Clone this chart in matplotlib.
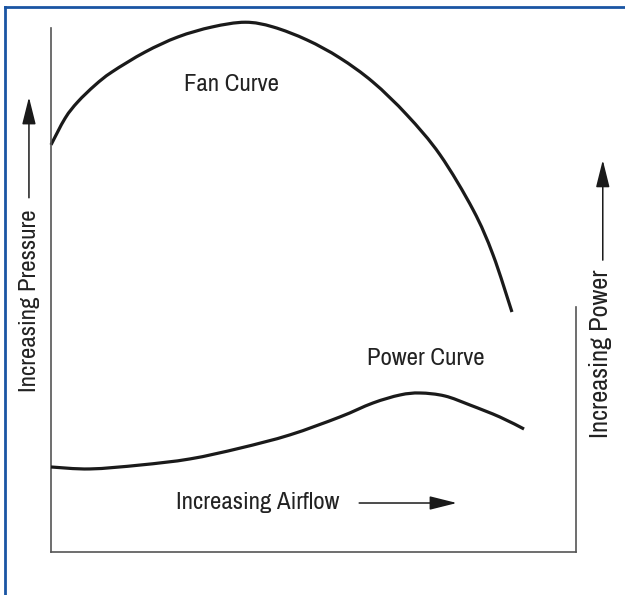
import matplotlib
matplotlib.use("Agg")
import matplotlib.pyplot as plt
from matplotlib.lines import Line2D
from matplotlib.path import Path
from matplotlib.patches import PathPatch

# ---- data ----
# Airflow (0-100 along x), pressure (0-100 along left axis)
fan_airflow = [0.0, 2.7, 5.1, 8.4, 11.6, 17.9, 24.2, 30.7, 37.0, 42.3,
               48.8, 55.0, 61.3, 67.8, 74.1, 80.4, 84.2, 87.8]
fan_pressure = [77.7, 82.8, 85.9, 89.1, 91.6, 95.4, 98.3, 100.2, 101.1, 100.2,
                97.7, 94.3, 89.7, 83.4, 75.8, 65.3, 56.7, 45.8]

# Power (0-100 along the right axis)
power_airflow = [0.0, 7.4, 17.0, 26.5, 36.0, 45.5, 55.0, 61.3, 66.5, 70.3,
                 75.0, 79.8, 85.5, 90.1]
power_values = [34.7, 33.9, 35.5, 38.0, 42.4, 47.8, 55.1, 60.8, 64.1, 64.9,
                63.7, 60.0, 55.1, 50.2]

labels = {"fan": "Fan Curve", "power": "Power Curve",
          "x": "Increasing Airflow", "yl": "Increasing Pressure",
          "yr": "Increasing Power"}

FONT = ["Archivo Narrow", "Roboto Condensed", "Barlow Semi Condensed", "DejaVu Sans"]
TXT = "#222222"
AX = "#555555"
CURVE = "#1a1a1a"

W, H = 625, 595
fig = plt.figure(figsize=(W / 100, H / 100), dpi=100)

# size the font so that the label widths match the reference (in pixels)
fig.canvas.draw()
rend = fig.canvas.get_renderer()
ws = []
for s, target in (("Fan Curve", 92), ("Increasing Airflow", 170)):
    t = fig.text(0, 0, s, fontsize=10, family=FONT)
    ws.append(target / t.get_window_extent(rend).width)
    t.remove()
FS = 10 * sum(ws) / len(ws)

ax = fig.add_axes([51 / W, (H - 552) / H, 525 / W, 524 / H])
ax.set_xlim(0, 100)
ax.set_ylim(0, 100)
for s in ("top", "right"):
    ax.spines[s].set_visible(False)
for s in ("left", "bottom"):
    ax.spines[s].set_color(AX)
    ax.spines[s].set_linewidth(1.2)
ax.set_xticks([])
ax.set_yticks([])

ax2 = ax.twinx()
ax2.set_ylim(0, 100 * 524 / 245)
for s in ("top", "left", "bottom"):
    ax2.spines[s].set_visible(False)
ax2.spines["right"].set_bounds(0, 100)
ax2.spines["right"].set_color(AX)
ax2.spines["right"].set_linewidth(1.2)
ax2.set_yticks([])


def smooth_path(xs, ys):
    """Catmull-Rom spline through the read points, as cubic Bezier path."""
    pts = list(zip(xs, ys))
    verts = [pts[0]]
    codes = [Path.MOVETO]
    n = len(pts)
    for i in range(n - 1):
        p0 = pts[i - 1] if i > 0 else pts[i]
        p1 = pts[i]
        p2 = pts[i + 1]
        p3 = pts[i + 2] if i + 2 < n else pts[i + 1]
        c1 = (p1[0] + (p2[0] - p0[0]) / 6, p1[1] + (p2[1] - p0[1]) / 6)
        c2 = (p2[0] - (p3[0] - p1[0]) / 6, p2[1] - (p3[1] - p1[1]) / 6)
        verts += [c1, c2, p2]
        codes += [Path.CURVE4] * 3
    return Path(verts, codes)


ax.add_patch(PathPatch(smooth_path(fan_airflow, fan_pressure), fill=False,
                       edgecolor=CURVE, lw=2.3, clip_on=False, capstyle="butt"))
ax2.add_patch(PathPatch(smooth_path(power_airflow, power_values), fill=False,
                        edgecolor=CURVE, lw=2.3, clip_on=False, capstyle="butt"))

ax.text(34.3, 88.0, labels["fan"], ha="center", va="baseline", fontsize=FS,
        family=FONT, color=TXT)
ax.text(71.4, 35.7, labels["power"], ha="center", va="baseline", fontsize=FS,
        family=FONT, color=TXT)
ax.text(23.8, 8.2, labels["x"], ha="left", va="baseline", fontsize=FS,
        family=FONT, color=TXT)
ax.text(-2.86, (552 - 301) / 5.24, labels["yl"], ha="center", va="baseline",
        rotation=90, rotation_mode="anchor", fontsize=FS, family=FONT,
        color=TXT, clip_on=False)
ax.text(106.1, (552 - 354) / 5.24, labels["yr"], ha="center", va="baseline",
        rotation=90, rotation_mode="anchor", fontsize=FS * 1.06, family=FONT,
        color=TXT, clip_on=False)

ap = dict(arrowstyle="-|>,head_length=1.4,head_width=0.35", color="#1a1a1a",
          lw=1.1, mutation_scale=12, shrinkA=0, shrinkB=0)
ax.annotate("", xy=(77.3, 9.35), xytext=(58.7, 9.35), arrowprops=ap,
            annotation_clip=False)
ax.annotate("", xy=(-4.2, 86.8), xytext=(-4.2, 67.6), arrowprops=ap,
            annotation_clip=False)
ax.annotate("", xy=(105.1, 74.8), xytext=(105.1, 55.7), arrowprops=ap,
            annotation_clip=False)

# blue frame (top and left)
BLUE = "#1a55a3"
fig.add_artist(Line2D([5 / W, 5 / W], [0, 1 - 7 / H], transform=fig.transFigure,
                      color=BLUE, lw=2.0, solid_capstyle="projecting"))
fig.add_artist(Line2D([5 / W, 1], [1 - 7 / H, 1 - 7 / H], transform=fig.transFigure,
                      color=BLUE, lw=2.0, solid_capstyle="projecting"))

fig.savefig("out.png", dpi=100, facecolor="white")
